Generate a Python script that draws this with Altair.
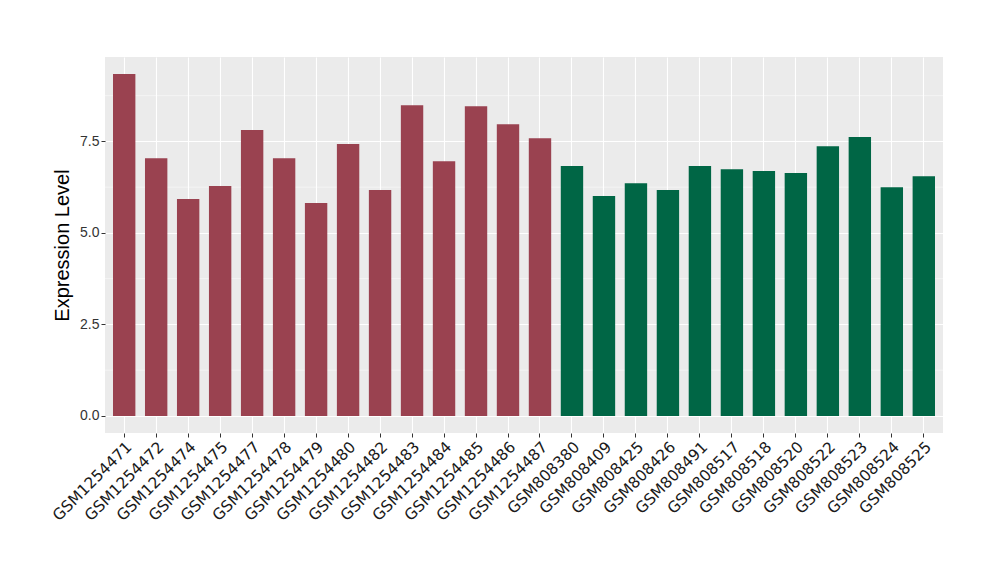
import altair as alt
import pandas as pd

samples = ["GSM1254471", "GSM1254472", "GSM1254474", "GSM1254475", "GSM1254477",
           "GSM1254478", "GSM1254479", "GSM1254480", "GSM1254482", "GSM1254483",
           "GSM1254484", "GSM1254485", "GSM1254486", "GSM1254487",
           "GSM808380", "GSM808409", "GSM808425", "GSM808426", "GSM808491",
           "GSM808517", "GSM808518", "GSM808520", "GSM808522", "GSM808523",
           "GSM808524", "GSM808525"]
values = [9.34, 7.04, 5.93, 6.28, 7.81, 7.04, 5.82, 7.43, 6.17, 8.49, 6.96, 8.46, 7.97, 7.59,
          6.83, 6.01, 6.36, 6.17, 6.83, 6.74, 6.69, 6.64, 7.37, 7.62, 6.25, 6.55]
groups = ["A"] * 14 + ["B"] * 12
minor_grid = [1.25, 3.75, 6.25, 8.75]

df = pd.DataFrame({"sample": samples, "value": values, "group": groups})
minor_df = pd.DataFrame({"y": minor_grid})

ymin, ymax = -0.467, 9.807
yscale = alt.Scale(domain=[ymin, ymax], nice=False, zero=False)

xenc = alt.X("sample:N", sort=samples, title=None,
             scale=alt.Scale(paddingInner=0.3, paddingOuter=0.25),
             axis=alt.Axis(labelAngle=-45, labelAlign="right", labelBaseline="top",
                           labelFont="DejaVu Sans", labelFontSize=15.5, labelColor="#1a1a1a",
                           labelPadding=2, tickColor="#333333", tickSize=4, tickWidth=1,
                           domain=False, grid=True, gridColor="white", gridWidth=1.1,
                           bandPosition=0.5))

minor = alt.Chart(minor_df).mark_rule(color="white", strokeWidth=0.5).encode(
    y=alt.Y("y:Q", scale=yscale)
)

bars = alt.Chart(df).mark_bar().encode(
    x=xenc,
    y=alt.Y("value:Q", scale=yscale, title="Expression Level",
            axis=alt.Axis(values=[0, 2.5, 5, 7.5], format=".1f",
                          labelFont="Liberation Sans", labelFontSize=14, labelColor="#333333",
                          labelPadding=2, tickColor="#333333", tickSize=4, tickWidth=1,
                          domain=False, grid=True, gridColor="white", gridWidth=1.1,
                          titleFont="Liberation Sans", titleFontSize=20, titleFontWeight="normal",
                          titleColor="black", titlePadding=7)),
    y2=alt.datum(0),
    color=alt.Color("group:N", scale=alt.Scale(domain=["A", "B"], range=["#9a4250", "#006645"]),
                    legend=None),
)

chart = alt.layer(minor, bars).properties(
    width=838, height=376,
    autosize=alt.AutoSizeParams(type="none"),
    padding={"left": 97, "top": 49, "right": 49, "bottom": 130},
).configure_view(fill="#ebebeb", stroke=None)

chart.save("out.html", embed_options={"renderer": "svg", "actions": False})
